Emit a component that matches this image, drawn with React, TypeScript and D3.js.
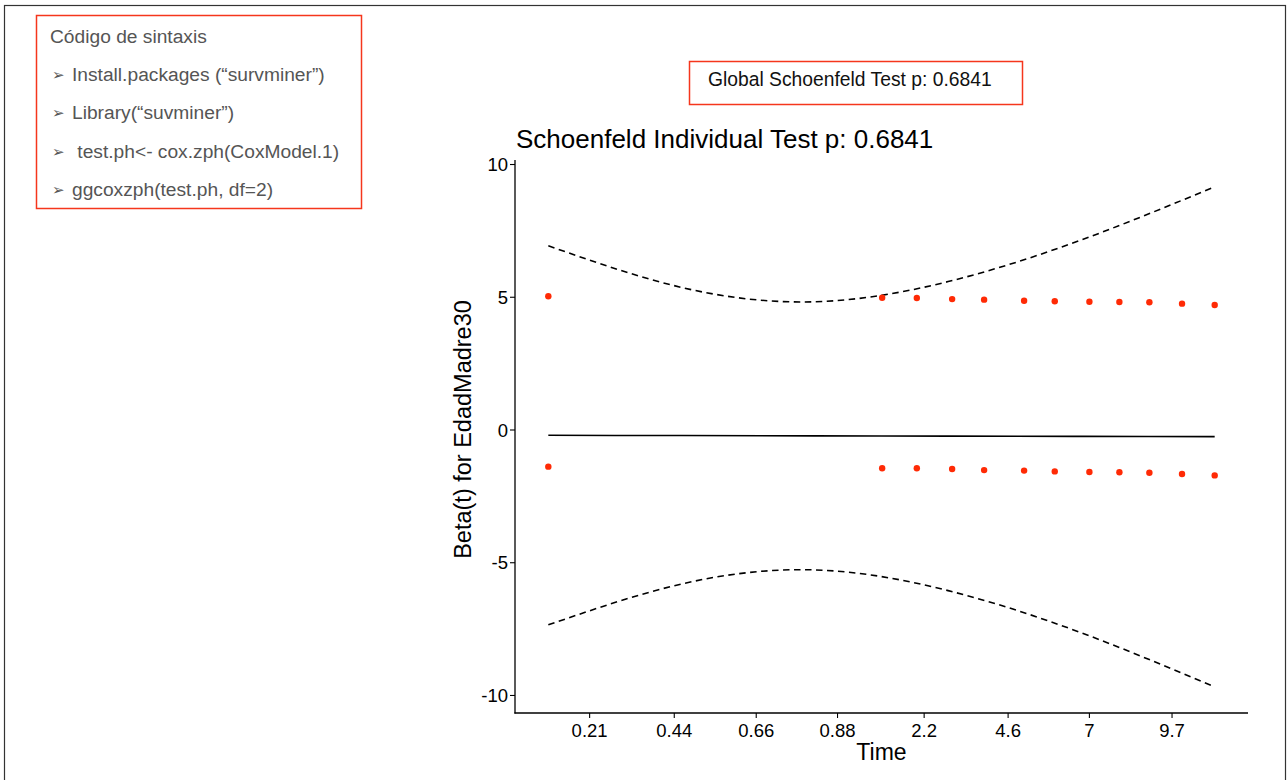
import React from "react";
import * as d3 from "d3";

// code box lines
const codeTitle = "Código de sintaxis";
const codeLines = [
  "Install.packages (“survminer”)",
  "Library(“suvminer”)",
  " test.ph<- cox.zph(CoxModel.1)",
  "ggcoxzph(test.ph, df=2)",
];

const globalLabel = "Global Schoenfeld Test p: 0.6841";
const plotTitle = "Schoenfeld Individual Test p: 0.6841";
const yTitle = "Beta(t) for EdadMadre30";
const xTitle = "Time";

// transformed time (0..1) of each residual
const residTime = [0, 0.501, 0.553, 0.606, 0.654, 0.714, 0.76, 0.812, 0.857, 0.902, 0.951, 1.0];
const residUpper = [5.04, 4.98, 4.97, 4.93, 4.91, 4.87, 4.85, 4.83, 4.82, 4.81, 4.76, 4.71];
const residLower = [-1.38, -1.44, -1.44, -1.47, -1.51, -1.53, -1.56, -1.58, -1.59, -1.61, -1.66, -1.71];

// smooth fit and confidence band
const fitTime = [0, 0.2, 0.4, 0.6, 0.8, 1.0];
const fitMid = [-0.2, -0.21, -0.22, -0.23, -0.24, -0.25];
const fitHigh = [6.94, 5.37, 4.83, 5.59, 7.16, 9.16];
const fitLow = [-7.34, -5.8, -5.27, -6.05, -7.64, -9.68];

// x axis ticks (transformed time) and their labels
const xTickPos = [0.062, 0.189, 0.312, 0.434, 0.564, 0.69, 0.812, 0.936];
const xTickLabels = ["0.21", "0.44", "0.66", "0.88", "2.2", "4.6", "7", "9.7"];
const yTicks = [-10, -5, 0, 5, 10];

const RED = "#f5361c";
const DOT = "#ff2a05";
const FONT = "'Liberation Sans', Arial, sans-serif";

export default function App() {
  const W = 1287;
  const H = 780;
  const left = 515;
  const right = 1248;
  const top = 160;
  const bottom = 713;

  const x = d3.scaleLinear().domain([-0.05, 1.05]).range([left, right]);
  const y = d3.scaleLinear().domain([-10.66, 10.17]).range([bottom, top]);

  const line = (ys: number[]) =>
    d3
      .line<number>()
      .x((_, i) => x(fitTime[i]))
      .y((d) => y(d))
      .curve(d3.curveNatural)(ys) as string;

  return (
    <svg
      width={W}
      height={H}
      style={{ position: "absolute", left: 0, top: 0, background: "#fff" }}
      fontFamily={FONT}
    >
      <rect x={0} y={0} width={W} height={H} fill="#fff" />
      <rect x={4.5} y={5.5} width={1281} height={H + 10} fill="none" stroke="#333" strokeWidth={1.2} />

      {/* code box */}
      <rect x={36.5} y={15.5} width={325} height={193} fill="none" stroke={RED} strokeWidth={1.5} />
      <text x={50} y={43} fontSize={19.2} fill="#555">
        {codeTitle}
      </text>
      {codeLines.map((t, i) => (
        <g key={i} fill="#555" fontSize={19.2}>
          <text x={52} y={80 + i * 38.4} fontFamily="'DejaVu Sans', sans-serif" fontSize={15}>
            ➢
          </text>
          <text x={72} y={81 + i * 38.4} style={{ whiteSpace: "pre" }}>
            {t}
          </text>
        </g>
      ))}

      {/* global test box */}
      <rect x={689.5} y={61.5} width={333} height={43} fill="none" stroke={RED} strokeWidth={1.5} />
      <text x={708} y={86} fontSize={19.3} fill="#111">
        {globalLabel}
      </text>

      {/* title */}
      <text x={516} y={148} fontSize={26} fill="#000">
        {plotTitle}
      </text>

      {/* confidence band and fit */}
      <path d={line(fitHigh)} fill="none" stroke="#000" strokeWidth={1.6} strokeDasharray="6.5 4.5" />
      <path d={line(fitLow)} fill="none" stroke="#000" strokeWidth={1.6} strokeDasharray="6.5 4.5" />
      <path d={line(fitMid)} fill="none" stroke="#000" strokeWidth={1.6} />

      {/* residuals */}
      {residTime.map((t, i) => (
        <g key={i} fill={DOT}>
          <circle cx={x(t)} cy={y(residUpper[i])} r={3.2} />
          <circle cx={x(t)} cy={y(residLower[i])} r={3.2} />
        </g>
      ))}

      {/* axes */}
      <line x1={left} x2={left} y1={top} y2={bottom + 0.6} stroke="#000" strokeWidth={1.3} />
      <line x1={left - 0.6} x2={right} y1={bottom} y2={bottom} stroke="#000" strokeWidth={1.3} />
      {yTicks.map((v) => (
        <g key={v}>
          <line x1={left - 5} x2={left} y1={y(v)} y2={y(v)} stroke="#000" strokeWidth={1.1} />
          <text x={left - 7} y={y(v)} dy="0.36em" textAnchor="end" fontSize={18.5} fill="#000">
            {v}
          </text>
        </g>
      ))}
      {xTickPos.map((t, i) => (
        <g key={i}>
          <line x1={x(t)} x2={x(t)} y1={bottom} y2={bottom + 5} stroke="#000" strokeWidth={1.1} />
          <text x={x(t)} y={bottom + 24} textAnchor="middle" fontSize={18.5} fill="#000">
            {xTickLabels[i]}
          </text>
        </g>
      ))}
      <text x={(left + right) / 2} y={760} textAnchor="middle" fontSize={23} fill="#000">
        {xTitle}
      </text>
      <text
        transform={`translate(${471}, ${(top + bottom) / 2 - 7}) rotate(-90)`}
        textAnchor="middle"
        fontSize={23.5}
        fill="#000"
      >
        {yTitle}
      </text>
    </svg>
  );
}
